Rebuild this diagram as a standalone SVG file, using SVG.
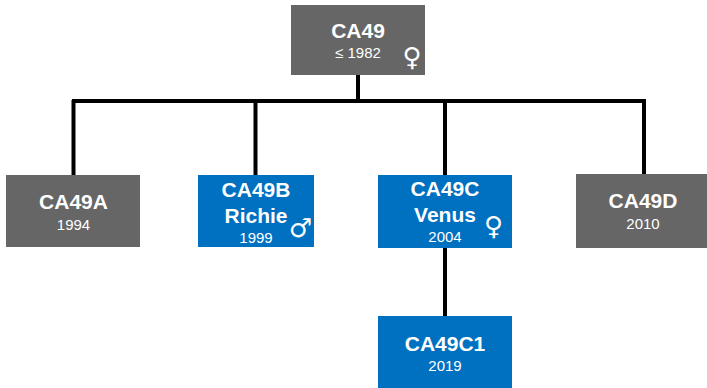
<svg xmlns="http://www.w3.org/2000/svg" width="707" height="388" viewBox="0 0 707 388">
<style>
.g{fill:#666666}.b{fill:#0070c0}
text{font-family:"Liberation Sans",Arial,sans-serif;fill:#fff;text-anchor:middle}
.t{font-size:21px;font-weight:bold}
.y{font-size:15px}
.s{font-family:"DejaVu Sans",sans-serif;font-size:26px;font-weight:bold}
#connectors path{fill:none;stroke:#000;stroke-width:4}
</style>
<rect width="707" height="388" fill="#fff"/>
<g id="connectors">
<path d="M358 75V101"/>
<path d="M72 101H646"/>
<path d="M73.500 100V175"/>
<path d="M255.500 100V175"/>
<path d="M445 100V175"/>
<path d="M644 103V175"/>
<path d="M445 247V316"/>
</g>
<g id="CA49"><rect class="g" x="291" y="5" width="134" height="70"/><text class="t" x="358" y="38">CA49</text><text class="y" x="358" y="58">≤ 1982</text><text class="s" x="412" y="66">♀</text></g>
<g id="CA49A"><rect class="g" x="6" y="175" width="134" height="72"/><text class="t" x="73.500" y="209">CA49A</text><text class="y" x="73.500" y="230">1994</text></g>
<g id="CA49B"><rect class="b" x="198" y="175" width="116" height="72"/><text class="t" x="256" y="197">CA49B</text><text class="t" x="256" y="223">Richie</text><text class="y" x="256" y="243">1999</text><text class="s" x="300.500" y="237">♂</text></g>
<g id="CA49C"><rect class="b" x="378" y="175" width="134" height="73"/><text class="t" x="445" y="196">CA49C</text><text class="t" x="445" y="222">Venus</text><text class="y" x="445" y="242">2004</text><text class="s" x="493.500" y="235">♀</text></g>
<g id="CA49D"><rect class="g" x="576" y="174" width="134" height="74"/><text class="t" x="643" y="208">CA49D</text><text class="y" x="643" y="229">2010</text></g>
<g id="CA49C1"><rect class="b" x="378" y="316" width="134" height="72"/><text class="t" x="445" y="351">CA49C1</text><text class="y" x="445" y="371">2019</text></g>
</svg>
